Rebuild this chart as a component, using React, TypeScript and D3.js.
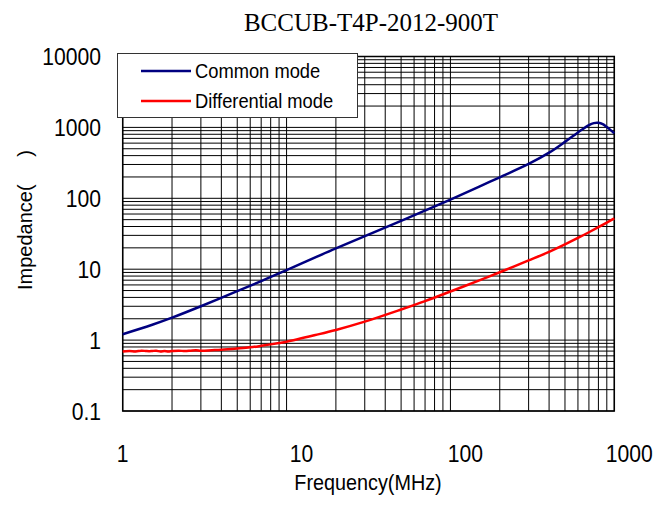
import React from 'react';
import * as d3 from 'd3';

const title = 'BCCUB-T4P-2012-900T';
const seriesNames = ['Common mode', 'Differential mode'];
const seriesColors = ['#000080', '#ff0000'];

// frequency (MHz) and impedance (ohm)
const commonFreq = [1, 1.5, 2, 3, 5, 7, 10, 20, 50, 100, 150, 200, 300, 400, 500, 600, 700, 750, 800, 850, 900, 1000];
const commonZ = [1.21, 1.63, 2.07, 3.0, 4.9, 6.8, 9.7, 19.7, 48, 96, 146, 198, 305, 440, 625, 850, 1080, 1150, 1160, 1110, 1010, 826];

const diffFreq = [1, 1.1, 1.2, 1.3, 1.4, 1.5, 1.6, 1.7, 1.8, 1.9, 2, 2.2, 2.4, 2.6, 2.8, 3, 3.5, 4, 5, 6, 7, 8, 9, 10, 15, 20, 30, 50, 70, 100, 150, 200, 300, 400, 500, 600, 700, 800, 900, 1000];
const diffZ = [0.69, 0.7, 0.69, 0.71, 0.7, 0.7, 0.71, 0.69, 0.7, 0.69, 0.7, 0.71, 0.7, 0.71, 0.72, 0.71, 0.72, 0.73, 0.76, 0.79, 0.83, 0.87, 0.91, 0.95, 1.18, 1.39, 1.82, 2.7, 3.55, 4.85, 6.95, 9.05, 13.3, 17.6, 22.4, 27.6, 33.2, 39.2, 45.5, 52];

const xTicks = [1, 10, 100, 1000];
const yTicks = [0.1, 1, 10, 100, 1000, 10000];
const yTickLabels = ['0.1', '1', '10', '100', '1000', '10000'];

const left = 122.7, right = 614.3, top = 56.5, bottom = 411;
const sans = 'Arial, "Liberation Sans", sans-serif';

export default function App() {
  const x = d3.scaleLog().domain([1, 1000]).range([left, right]);
  const y = d3.scaleLog().domain([0.1, 10000]).range([bottom, top]);

  const minorX: number[] = [];
  for (let k = 0; k < 3; k++) for (let m = 1; m <= 9; m++) minorX.push(m * Math.pow(10, k));
  minorX.push(1000);
  const minorY: number[] = [];
  for (let k = -1; k < 4; k++) for (let m = 1; m <= 9; m++) minorY.push(m * Math.pow(10, k));
  minorY.push(10000);

  const line = d3.line<[number, number]>()
    .x(d => x(d[0]))
    .y(d => y(d[1]))
    .curve(d3.curveCatmullRom.alpha(0.5));

  const common = line(commonFreq.map((f, i) => [f, commonZ[i]]) as [number, number][]);
  const diff = line(diffFreq.map((f, i) => [f, diffZ[i]]) as [number, number][]);

  return (
    <svg width={670} height={505} style={{ position: 'absolute', left: 0, top: 0, background: '#fff' }}>
      <text x={371} y={31} textAnchor="middle" fontFamily='"Times New Roman", "Liberation Serif", serif' fontSize={25}>{title}</text>

      {/* grid */}
      <g stroke="#000" strokeWidth={1}>
        {minorX.map((v, i) => (
          <line key={'gx' + i} x1={x(v)} x2={x(v)} y1={top} y2={bottom} />
        ))}
        {minorY.map((v, i) => (
          <line key={'gy' + i} x1={left} x2={right} y1={y(v)} y2={y(v)} />
        ))}
      </g>
      <rect x={left} y={top} width={right - left} height={bottom - top} fill="none" stroke="#000" strokeWidth={1.5} />

      {/* curves */}
      <path d={common || ''} fill="none" stroke={seriesColors[0]} strokeWidth={2.5} />
      <path d={diff || ''} fill="none" stroke={seriesColors[1]} strokeWidth={2.5} />

      {/* y tick labels */}
      {yTicks.map((v, i) => (
        <g key={'yl' + i} transform={`translate(101,${y(v) + 8.5}) scale(0.88,1)`}>
          <text textAnchor="end" fontFamily={sans} fontSize={24}>{yTickLabels[i]}</text>
        </g>
      ))}

      {/* x tick labels */}
      {xTicks.map((v, i) => (
        <g key={'xl' + i} transform={`translate(${x(v) + (i > 0 ? 15 : 0)},461.5) scale(0.88,1)`}>
          <text textAnchor="middle" fontFamily={sans} fontSize={24}>{v}</text>
        </g>
      ))}

      <g transform="translate(368,490) scale(0.9,1)">
        <text textAnchor="middle" fontFamily={sans} fontSize={22}>Frequency(MHz)</text>
      </g>
      <text transform="translate(32,220) rotate(-90)" textAnchor="middle" fontFamily={sans} fontSize={20}>
        {'Impedance(\u00a0\u00a0\u00a0\u00a0\u00a0)'}
      </text>

      {/* legend */}
      <rect x={117.5} y={53.5} width={240} height={64} fill="#fff" stroke="#333" strokeWidth={1} />
      {seriesNames.map((name, i) => (
        <g key={'lg' + i} transform={`translate(0,${71 + i * 30})`}>
          <line x1={141} x2={191} y1={0} y2={0} stroke={seriesColors[i]} strokeWidth={2.5} />
          <g transform="translate(195,7) scale(0.94,1)">
            <text fontFamily={sans} fontSize={19.5}>{name}</text>
          </g>
        </g>
      ))}
    </svg>
  );
}
